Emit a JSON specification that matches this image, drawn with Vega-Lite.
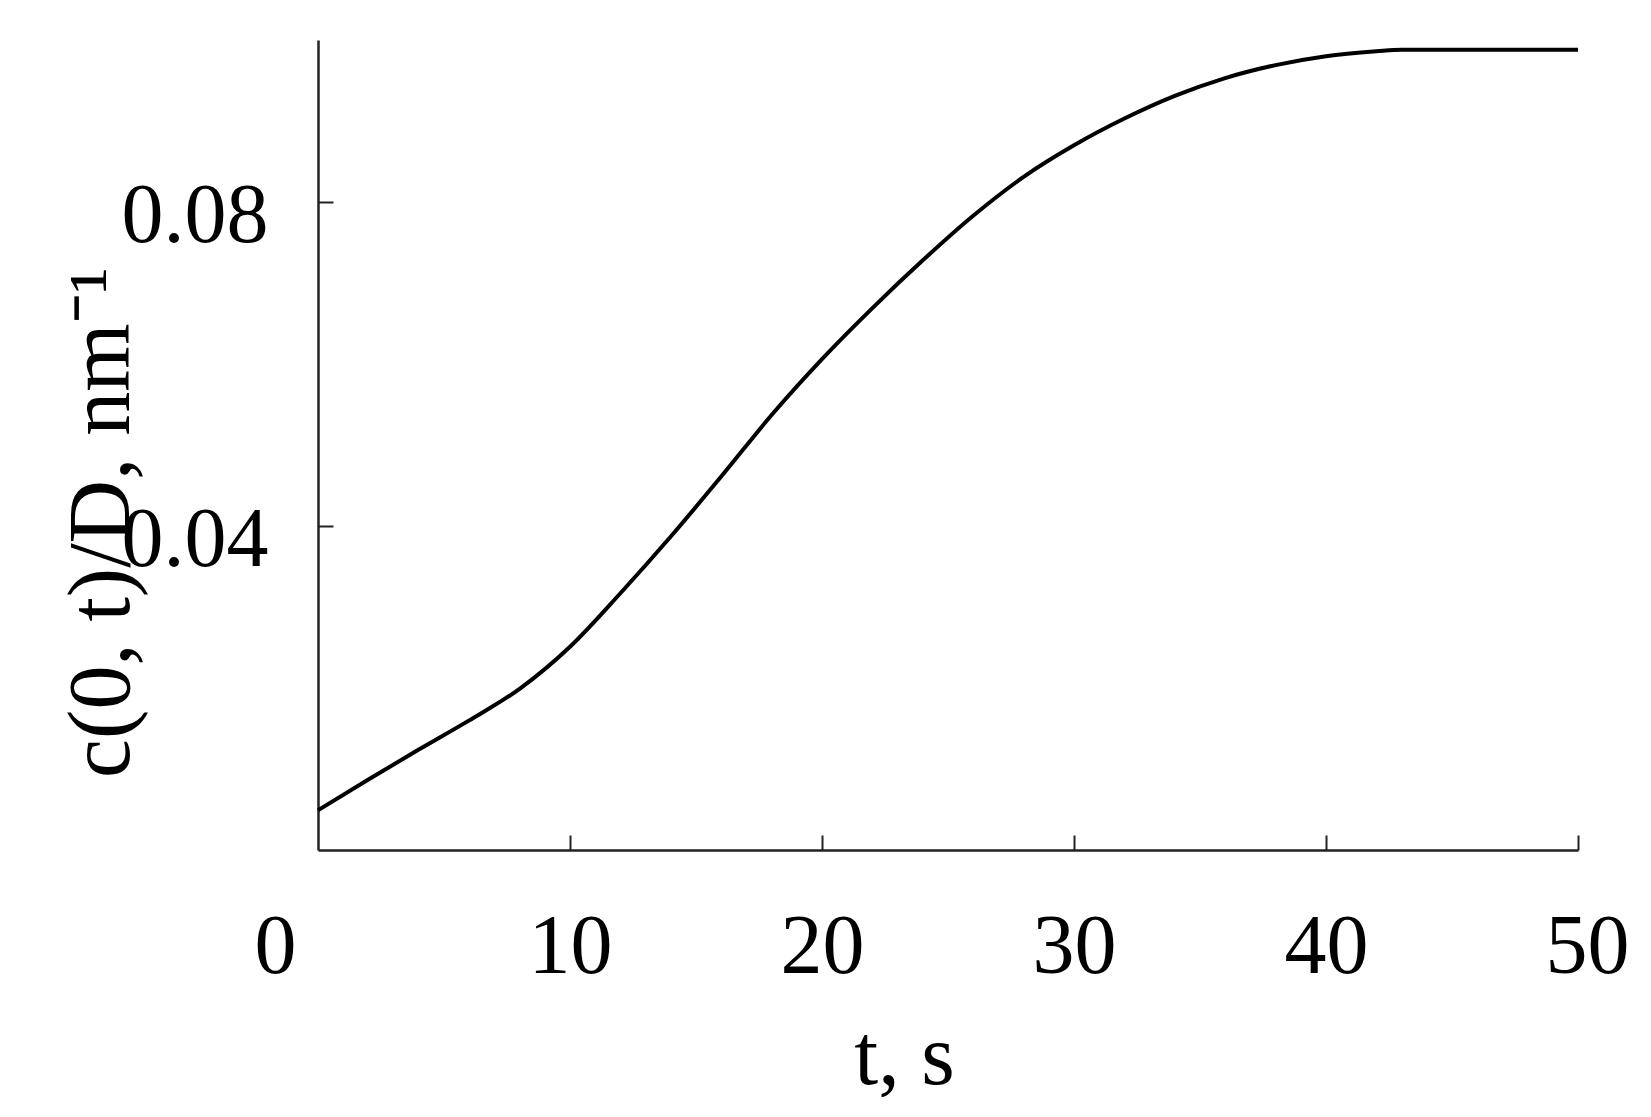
{
  "$schema": "https://vega.github.io/schema/vega-lite/v6.json",
  "width": 1260,
  "height": 810,
  "autosize": "none",
  "padding": {"left": 318, "top": 40, "right": 73, "bottom": 267},
  "background": "white",
  "config": {
    "view": {"stroke": null},
    "font": "Liberation Serif"
  },
  "data": {
    "values": [
      {"t": 0, "c": 0.0049},
      {"t": 2, "c": 0.0087},
      {"t": 4, "c": 0.0124},
      {"t": 6, "c": 0.0160},
      {"t": 8, "c": 0.0199},
      {"t": 10, "c": 0.0251},
      {"t": 12, "c": 0.0317},
      {"t": 14, "c": 0.0387},
      {"t": 16, "c": 0.0461},
      {"t": 18, "c": 0.0537},
      {"t": 20, "c": 0.0606},
      {"t": 22, "c": 0.0669},
      {"t": 24, "c": 0.0728},
      {"t": 26, "c": 0.0783},
      {"t": 28, "c": 0.0831},
      {"t": 30, "c": 0.0870},
      {"t": 32, "c": 0.0903},
      {"t": 34, "c": 0.0931},
      {"t": 36, "c": 0.0953},
      {"t": 38, "c": 0.0969},
      {"t": 40, "c": 0.0980},
      {"t": 42, "c": 0.0986},
      {"t": 43, "c": 0.0988},
      {"t": 50, "c": 0.0988}
    ]
  },
  "mark": {"type": "line", "color": "black", "strokeWidth": 4, "interpolate": "monotone"},
  "encoding": {
    "x": {
      "field": "t",
      "type": "quantitative",
      "scale": {"domain": [0, 50], "nice": false, "zero": false},
      "axis": {
        "values": [0, 10, 20, 30, 40, 50],
        "grid": false,
        "title": "t, s",
        "titleFont": "Liberation Serif",
        "titleFontSize": 86,
        "titleFontWeight": "normal",
        "titleColor": "black",
        "titleBaseline": "alphabetic",
        "titleAlign": "center",
        "titleX": 586,
        "titleY": 233,
        "labelFont": "Liberation Serif",
        "labelFontSize": 84,
        "labelColor": "black",
        "labelBaseline": "alphabetic",
        "labelPadding": 137,
        "labelFlush": false,
        "labelOverlap": false,
        "labelOffset": {"condition": [{"test": "datum.value === 0", "value": -43}, {"test": "datum.value === 50", "value": 9}], "value": 0},
        "tickSize": -15,
        "tickWidth": 2,
        "tickColor": "#222",
        "tickOpacity": {"condition": {"test": "datum.value === 0", "value": 0}, "value": 1},
        "domainColor": "#222",
        "domainWidth": 2.5
      }
    },
    "y": {
      "field": "c",
      "type": "quantitative",
      "scale": {"domain": [0, 0.1], "nice": false},
      "axis": {
        "values": [0.04, 0.08],
        "format": ".2f",
        "grid": false,
        "title": "c(0, t)/D, nm⁻¹",
        "titleFont": "Liberation Serif",
        "titleFontSize": 88,
        "titleFontWeight": "normal",
        "titleColor": "black",
        "titleAngle": -90,
        "titleBaseline": "alphabetic",
        "titleAlign": "center",
        "titleX": -190,
        "titleY": 482,
        "labelFont": "Liberation Serif",
        "labelFontSize": 84,
        "labelColor": "black",
        "labelBaseline": "alphabetic",
        "labelOffset": 39,
        "labelPadding": 65,
        "labelFlush": false,
        "labelOverlap": false,
        "tickSize": -15,
        "tickWidth": 2,
        "tickColor": "#222",
        "domainColor": "#222",
        "domainWidth": 2.5
      }
    }
  }
}
